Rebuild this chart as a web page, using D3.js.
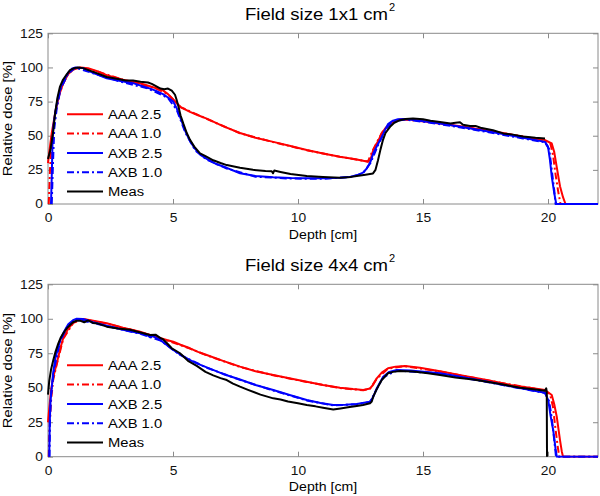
<!DOCTYPE html>
<html><head><meta charset="utf-8">
<script src="https://cdn.jsdelivr.net/npm/d3@7"></script>
<style>html,body{margin:0;padding:0;background:#fff;}svg{display:block;}</style>
</head><body>
<script>
// ---------- data (depth [cm], relative dose [%]) ----------
const xTicks = [0, 5, 10, 15, 20];
const yTicks = [0, 25, 50, 75, 100, 125];
const seriesNames = ["AAA 2.5", "AAA 1.0", "AXB 2.5", "AXB 1.0", "Meas"];
const titles = ["Field size 1x1 cm", "Field size 4x4 cm"];

// Field size 1x1
const top_aaa25 = [[0,30],[0.05,38],[0.15,52],[0.3,68],[0.45,80],[0.6,88],[0.8,95],[1.0,98.5],[1.3,100],[1.6,99.5],[2.0,97],[2.35,94.3],[3.0,91],[3.75,88],[4.3,85],[4.61,83],[4.8,80.5],[5.01,76.5],[5.3,71],[5.68,67.5],[6.0,65],[6.35,62.5],[7.0,57],[7.68,52],[8.3,48.5],[9.01,45.5],[9.7,42.5],[10.35,39.5],[11.0,37],[11.68,34.6],[12.3,32.8],[12.8,31],[12.9,32.5],[13.01,39.5],[13.2,46],[13.35,51.7],[13.5,55.5],[13.68,59],[13.9,61],[14.08,62],[14.4,62.3],[14.88,61],[15.5,59.5],[16.5,57],[17.5,54],[18.2,52],[19.0,49.3],[19.88,46.8],[20.15,44.3],[20.25,38],[20.35,27],[20.48,13],[20.6,5],[20.7,0],[22,0]];
const top_aaa10 = [[0.03,0],[0.08,25],[0.15,48],[0.3,67],[0.45,80],[0.6,88],[0.8,95],[1.0,98.5],[1.3,100],[2.0,96.8],[3.0,91],[4.3,84.8],[4.8,80.3],[5.3,71],[6.35,62.3],[7.68,51.8],[9.01,45.3],[10.35,39.4],[11.68,34.5],[12.8,31.2],[13.01,40],[13.35,52],[13.68,59.2],[14.08,62],[14.88,60.8],[16.5,56.8],[18.2,51.8],[19.88,46.5],[20.1,44],[20.2,36],[20.3,22],[20.4,10],[20.5,0],[22,0]];
const top_axb25 = [[0.12,0],[0.15,20],[0.18,45],[0.22,58],[0.3,68],[0.4,78],[0.5,85],[0.65,91],[0.8,96],[0.95,99],[1.1,100],[1.4,99.5],[1.8,96],[2.35,92],[2.9,90],[3.4,88.5],[4.0,85],[4.3,83],[4.6,80.5],[4.8,78],[5.01,75],[5.15,70],[5.34,61],[5.5,53],[5.68,46],[5.9,40],[6.1,36],[6.35,33],[6.7,29.5],[7.15,26.5],[7.68,22.5],[8.3,20.5],[9.01,19.5],[9.7,19],[10.35,18.8],[11.0,18.8],[11.68,19.2],[12.1,20],[12.35,21],[12.6,23],[12.75,26],[12.9,31],[13.01,37],[13.2,44],[13.35,49],[13.5,55],[13.6,58.5],[13.8,61],[14.0,62],[14.3,62.2],[14.88,61],[15.5,59.5],[16.5,56.5],[17.5,53.5],[18.2,51.2],[19.0,48.5],[19.88,45.5],[20.0,42],[20.08,32],[20.15,20],[20.25,8],[20.33,0],[22,0]];
const top_axb10 = [[0.15,0],[0.2,30],[0.25,55],[0.35,70],[0.5,84],[0.8,95.5],[1.1,99.8],[1.8,95.8],[2.9,89.6],[4.0,84.6],[4.8,77.6],[5.15,69],[5.5,52],[5.9,39],[6.35,32.5],[7.15,26],[8.3,20],[9.7,18.6],[11.0,18.5],[12.1,19.7],[12.6,22.5],[12.9,30],[13.2,43],[13.5,54.5],[13.8,60.5],[14.3,61.8],[15.5,59],[17.5,53],[19.0,48],[19.88,45.2],[20.05,40],[20.15,25],[20.25,10],[20.3,0],[22,0]];
const top_meas = [[0,33],[0.1,40],[0.2,52],[0.28,66],[0.38,78],[0.48,86],[0.6,91],[0.75,95],[0.88,98],[1.05,99.5],[1.2,100],[1.4,99.5],[1.7,97.5],[2.0,95.5],[2.35,93],[2.8,91.5],[3.1,90.5],[3.4,90.5],[3.7,89.5],[4.0,89],[4.15,88],[4.3,86.5],[4.5,84.5],[4.65,84],[4.8,84.5],[4.95,83],[5.08,80],[5.15,76],[5.21,72],[5.3,65],[5.41,59],[5.55,52],[5.68,47],[5.85,42],[6.08,37],[6.3,35],[6.61,32],[6.9,30],[7.15,28.5],[7.68,26.5],[8.2,25],[8.7,24.2],[8.95,24],[9.0,22.5],[9.05,24.5],[9.3,23.5],[9.7,22],[10.35,20.5],[11.0,19.8],[11.68,19.3],[12.0,19.5],[12.35,20.5],[12.7,21.5],[13.0,22.4],[13.1,25],[13.2,32],[13.3,40],[13.4,47],[13.5,52],[13.68,56.5],[13.85,59.5],[14.08,61.4],[14.3,62.3],[14.6,62.6],[15.0,62],[15.3,61],[15.68,60],[16.1,59],[16.3,59.5],[16.48,59.8],[16.6,58],[16.88,57.2],[17.1,57.2],[17.3,55.8],[17.8,54],[18.21,51.7],[18.6,50.8],[19.0,49.5],[19.5,48.5],[19.88,48]];

// Field size 4x4
const bot_aaa25 = [[0,25],[0.05,35],[0.12,48],[0.2,57],[0.35,67.7],[0.5,79],[0.61,86],[0.8,92.5],[1.01,97.2],[1.2,99.3],[1.41,99.9],[1.7,99],[2.35,96.7],[3.0,93.5],[3.68,90.6],[4.2,87.5],[4.75,84.6],[5.01,83.4],[5.3,81.2],[5.68,78.6],[6.0,76],[6.35,73.7],[7.0,69.5],[7.68,65.3],[8.3,62],[9.01,59.2],[9.7,56.7],[10.35,54.4],[11.0,52],[11.68,50],[12.2,49],[12.61,48.4],[12.88,49.5],[13.0,52],[13.15,56.8],[13.35,61],[13.6,64.1],[13.9,65.3],[14.28,65.8],[14.88,64.5],[15.68,62],[16.5,59],[17.55,55.6],[18.5,52],[19.88,48.4],[20.15,44.7],[20.25,38],[20.35,29],[20.48,12],[20.55,4],[20.6,0],[22,0]];
const bot_aaa10 = [[0.03,0],[0.06,20],[0.12,40],[0.2,55],[0.35,67],[0.61,85.5],[1.01,97],[1.41,99.7],[2.35,96.5],[3.68,90.4],[4.75,84.4],[5.68,78.4],[6.35,73.5],[7.68,65.1],[9.01,59],[10.35,54.2],[11.68,49.8],[12.61,48.2],[12.88,49.3],[13.15,56.5],[13.6,63.9],[14.28,65.6],[15.68,61.8],[17.55,55.4],[19.88,48],[20.1,44],[20.2,36],[20.3,20],[20.4,6],[20.45,0],[22,0]];
const bot_axb25 = [[0.05,0],[0.07,25],[0.1,40],[0.2,60],[0.3,72],[0.48,84],[0.65,91],[0.81,96],[1.0,99],[1.15,100],[1.4,99.8],[1.8,97.5],[2.35,95],[3.0,92],[3.68,89.5],[3.95,88.5],[4.08,86.6],[4.2,87.5],[4.5,84.5],[5.01,77.4],[5.3,74],[5.68,70],[6.0,67.3],[6.35,64.8],[7.0,60],[7.68,56],[8.3,52],[9.01,48.4],[9.7,44.5],[10.35,41.1],[10.9,39],[11.41,37.5],[11.9,37.6],[12.35,38.2],[12.88,39.9],[13.0,43],[13.15,49.6],[13.41,58],[13.65,61.5],[13.95,62.9],[14.5,62.5],[15.68,60.5],[16.5,58],[17.55,54.5],[18.5,51],[19.88,46.4],[20.01,41],[20.1,30],[20.21,19],[20.3,6],[20.35,0],[22,0]];
const bot_axb10 = [[0.06,0],[0.08,28],[0.12,45],[0.25,64],[0.48,83.5],[0.81,95.6],[1.15,99.6],[2.35,94.7],[3.68,89.2],[4.5,84.2],[5.3,73.6],[6.35,64.5],[7.68,55.7],[9.01,48],[10.35,40.8],[11.41,37.2],[12.35,38],[12.88,39.6],[13.15,49],[13.41,57.6],[13.95,62.5],[15.68,60.2],[17.55,54.2],[19.88,46.2],[20.05,40],[20.15,28],[20.25,12],[20.32,0],[22,0]];
const bot_meas = [[0,45],[0.05,55],[0.12,63],[0.21,70],[0.3,76],[0.41,82],[0.5,86],[0.61,89.5],[0.75,93],[0.88,95.5],[1.0,97.5],[1.15,98.6],[1.3,98.5],[1.45,97.5],[1.6,98.8],[1.8,97],[2.0,96.5],[2.35,94.3],[2.8,93],[3.28,92],[3.7,90],[4.08,88.3],[4.3,88.5],[4.5,86],[4.61,85],[4.8,81.5],[4.95,78.6],[5.1,77],[5.28,75],[5.6,69.5],[5.95,65.8],[6.3,61.5],[6.61,59],[6.9,57],[7.15,55.6],[7.4,53],[7.68,50.8],[8.0,48.5],[8.5,45],[9.01,42.3],[9.3,41.5],[9.6,40],[10.0,38.8],[10.35,37.5],[10.7,36.5],[11.0,35.5],[11.41,34.3],[11.7,35],[12.0,35.8],[12.35,36.8],[12.6,37.5],[12.88,38.7],[12.95,40],[13.01,43.5],[13.15,49],[13.35,55.6],[13.6,60.5],[13.8,61.5],[14.08,62.1],[14.6,61.7],[15.2,60.5],[15.68,59.2],[16.3,57.5],[17.0,56],[17.55,54.4],[18.2,52.3],[18.88,50],[19.5,48.7],[19.88,47.9],[19.93,49.6],[19.95,47],[19.96,0]];

const panelsData = [
  [top_aaa25, top_aaa10, top_axb25, top_axb10, top_meas],
  [bot_aaa25, bot_aaa10, bot_axb25, bot_axb10, bot_meas]
];

// ---------- styling ----------
const styles = [
  {color:"#ff0000", dash:null},
  {color:"#ff0000", dash:"7,3,2,3"},
  {color:"#0000ff", dash:null},
  {color:"#0000ff", dash:"7,3,2,3"},
  {color:"#000000", dash:null}
];
const FONT = "'Liberation Sans', Arial, Helvetica, sans-serif";
const W = 600, H = 496;
const L = 48, R = 598;
const panelBoxes = [{top:33.3, bottom:204}, {top:284.3, bottom:456.7}];
const boxColor = "#8a8a8a";

const svg = d3.select("body").append("svg").attr("width", W).attr("height", H)
  .style("font-family", FONT);

function stretch(sel, k) {
  sel.each(function() {
    const w = this.getComputedTextLength();
    this.setAttribute("textLength", w * k);
    this.setAttribute("lengthAdjust", "spacingAndGlyphs");
  });
}

const x = d3.scaleLinear().domain([0, 22]).range([L, R]);

panelBoxes.forEach((pb, pi) => {
  const y = d3.scaleLinear().domain([0, 125]).range([pb.bottom, pb.top]);
  const g = svg.append("g");
  const cx = (L + R) / 2;

  // clip
  const clipId = "clip" + pi;
  svg.append("clipPath").attr("id", clipId).append("rect")
    .attr("x", L - 1).attr("y", pb.top - 2).attr("width", R - L + 2).attr("height", pb.bottom - pb.top + 3);

  // box
  g.append("rect").attr("x", L).attr("y", pb.top).attr("width", R - L).attr("height", pb.bottom - pb.top)
    .attr("fill", "none").attr("stroke", boxColor).attr("stroke-width", 1);

  // axes
  const axB = g.append("g").attr("transform", `translate(0,${pb.bottom})`)
    .call(d3.axisBottom(x).tickValues(xTicks).tickSizeInner(-5).tickSizeOuter(0).tickPadding(9.5).tickFormat(d3.format("d")));
  const axT = g.append("g").attr("transform", `translate(0,${pb.top})`)
    .call(d3.axisTop(x).tickValues(xTicks).tickSizeInner(-5).tickSizeOuter(0).tickFormat(""));
  const axL = g.append("g").attr("transform", `translate(${L},0)`)
    .call(d3.axisLeft(y).tickValues(yTicks).tickSizeInner(-5).tickSizeOuter(0).tickPadding(5).tickFormat(d3.format("d")));
  const axR = g.append("g").attr("transform", `translate(${R},0)`)
    .call(d3.axisRight(y).tickValues(yTicks).tickSizeInner(-5).tickSizeOuter(0).tickFormat(""));
  [axB, axT, axL, axR].forEach(a => {
    a.select(".domain").remove();
    a.selectAll("line").attr("stroke", boxColor);
    a.selectAll("text").attr("fill", "#111").style("font-size", "12px").style("font-family", FONT);
  });
  stretch(axB.selectAll("text"), 1.15);
  stretch(axL.selectAll("text"), 1.15);

  // lines
  const line = d3.line().x(d => x(d[0])).y(d => y(d[1]));
  const lg = g.append("g").attr("clip-path", `url(#${clipId})`);
  panelsData[pi].forEach((data, si) => {
    const st = styles[si];
    lg.append("path").datum(data).attr("d", line)
      .attr("fill", "none").attr("stroke", st.color).attr("stroke-width", 2)
      .attr("stroke-linejoin", "round")
      .attr("stroke-dasharray", st.dash);
  });

  // title
  const tt = g.append("text").attr("x", cx - 78).attr("y", pb.top - 13.3)
    .attr("fill", "#000").style("font-size", "16px").text(titles[pi]);
  stretch(tt, 1.157);
  g.append("text").attr("x", cx - 78 + 144).attr("y", pb.top - 22.5)
    .attr("fill", "#000").style("font-size", "11px").text("2");

  // x label
  const xl = g.append("text").attr("x", cx).attr("y", pb.bottom + 34.5)
    .attr("text-anchor", "middle").attr("fill", "#000").style("font-size", "12.5px").text("Depth [cm]");
  stretch(xl, 1.13);

  // y label
  const ycy = (pb.top + pb.bottom) / 2;
  const yl = g.append("text").attr("transform", `translate(11.5,${ycy}) rotate(-90)`)
    .attr("text-anchor", "middle").attr("fill", "#000").style("font-size", "13px").text("Relative dose [%]");
  stretch(yl, 1.14);

  // legend
  const legTop = pb.top + 81;
  seriesNames.forEach((name, si) => {
    const st = styles[si];
    const ry = legTop + si * 19.3;
    g.append("line").attr("x1", 67).attr("x2", 103).attr("y1", ry).attr("y2", ry)
      .attr("stroke", st.color).attr("stroke-width", 2).attr("stroke-dasharray", st.dash);
    const t = g.append("text").attr("x", 108).attr("y", ry + 4.6)
      .attr("fill", "#000").style("font-size", "12.5px").text(name);
    stretch(t, 1.18);
  });
});
</script>
</body></html>
